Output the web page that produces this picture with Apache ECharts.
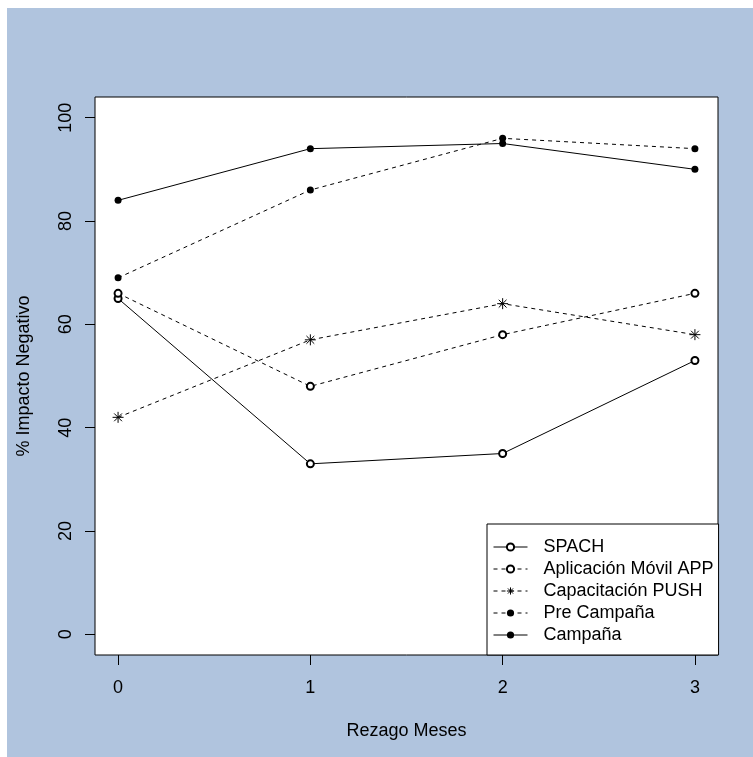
<!DOCTYPE html>
<html>
<head>
<meta charset="utf-8">
<script src="https://cdn.jsdelivr.net/npm/echarts@6/dist/echarts.min.js"></script>
<style>
html,body{margin:0;padding:0;background:#ffffff;width:753px;height:757px;overflow:hidden;}
#chart{position:absolute;left:7px;top:8px;width:746px;height:749px;}
</style>
</head>
<body>
<div id="chart"></div>
<script>
// ---- data ----
const categories = [0, 1, 2, 3];
const xTicks = [0, 1, 2, 3];
const yTicks = [0, 20, 40, 60, 80, 100];
const seriesNames = ["SPACH", "Aplicación Móvil APP", "Capacitación PUSH", "Pre Campaña", "Campaña"];
const spach = [65, 33, 35, 53];
const appMovil = [66, 48, 58, 66];
const push = [42, 57, 64, 58];
const preCampana = [69, 86, 96, 94];
const campana = [84, 94, 95, 90];
const xTitle = "Rezago Meses";
const yTitle = "% Impacto Negativo";

const FONT = "'Liberation Sans', Arial, sans-serif";
const asterisk = 'path://M5,0L5,10M0,5L10,5M1.46,1.46L8.54,8.54M1.46,8.54L8.54,1.46';

function pts(arr){ return categories.map((c,i)=>[c, arr[i]]); }

function mk(name, arr, dashed, symbol, size){
  return {
    name: name,
    type: 'line',
    data: pts(arr),
    symbol: symbol,
    symbolSize: size,
    showSymbol: true,
    animation: false,
    lineStyle: {color:'#000', width:1, type: dashed ? [4,4] : 'solid'},
    itemStyle: symbol === 'circle'
      ? {color:'#000', borderWidth:0}
      : {color:'#000', borderColor:'#000', borderWidth:1},
    emphasis: {disabled:true}
  };
}

const chart = echarts.init(document.getElementById('chart'), null, {renderer:'canvas'});
chart.setOption({
  backgroundColor: '#B0C4DE',
  animation: false,
  textStyle: {fontFamily: FONT},
  grid: {left:88, top:89, right:35, bottom:102, show:true, backgroundColor:'#ffffff', borderColor:'#000', borderWidth:1},
  legend: {
    orient: 'vertical',
    left: 480, top: 516,
    data: seriesNames,
    backgroundColor: '#ffffff',
    borderColor: '#000', borderWidth: 1,
    padding: [12, 5, 9, 6],
    itemWidth: 34, itemHeight: 9, itemGap: 0,
    lineStyle: {width: 1},
    itemStyle: {borderWidth: 1},
    textStyle: {fontSize:18, color:'#000', fontFamily: FONT, lineHeight:22, padding:[0,0,0,11]},
    selectedMode: false
  },
  xAxis: {
    type: 'value', min: -0.12, max: 3.12,
    name: xTitle, nameLocation: 'middle', nameGap: 67,
    nameTextStyle: {fontSize:18, color:'#000', fontFamily: FONT},
    axisLine: {show:false, onZero:false},
    splitLine: {show:false},
    axisTick: {show:true, inside:false, customValues: xTicks, length:10, lineStyle:{color:'#000', width:1}},
    axisLabel: {customValues: xTicks, fontSize:18, color:'#000', margin:24, fontFamily: FONT}
  },
  yAxis: {
    type: 'value', min: -4, max: 104,
    name: yTitle, nameLocation: 'middle', nameGap: 62, nameRotate: 90,
    nameTextStyle: {fontSize:18, color:'#000', fontFamily: FONT},
    axisLine: {show:false, onZero:false},
    splitLine: {show:false},
    axisTick: {show:true, inside:false, customValues: yTicks, length:10, lineStyle:{color:'#000', width:1}},
    axisLabel: {customValues: yTicks, fontSize:18, color:'#000', margin:20, rotate:90, fontFamily: FONT}
  },
  series: [
    mk(seriesNames[0], spach, false, 'emptyCircle', 7),
    mk(seriesNames[1], appMovil, true, 'emptyCircle', 7),
    mk(seriesNames[2], push, true, asterisk, 11),
    mk(seriesNames[3], preCampana, true, 'circle', 7),
    mk(seriesNames[4], campana, false, 'circle', 7)
  ]
});
</script>
</body>
</html>
